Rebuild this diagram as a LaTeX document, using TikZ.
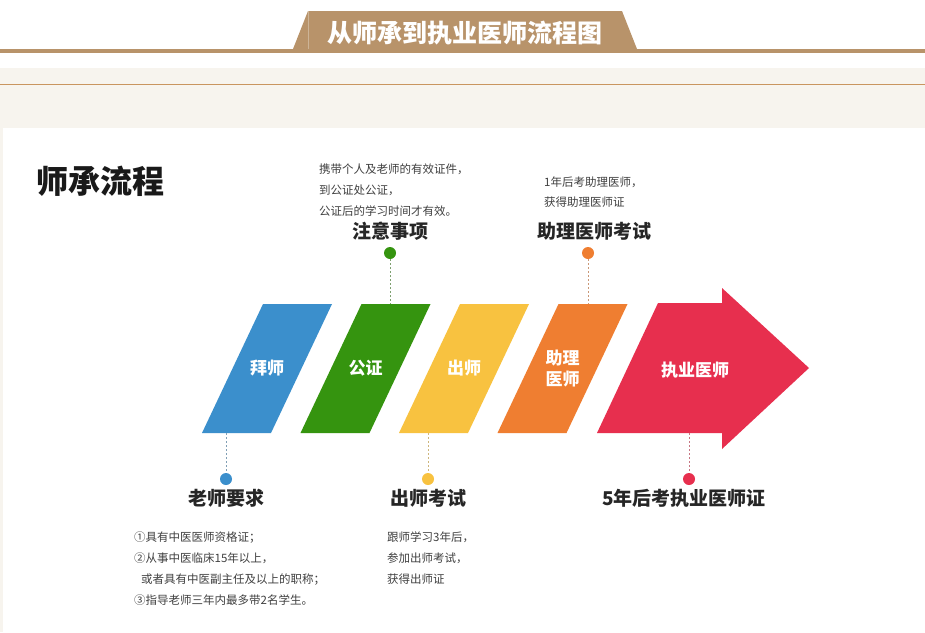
\documentclass[tikz,border=0pt]{standalone}
\usepackage{fontspec}
\setmainfont{Noto Sans CJK SC}
\usetikzlibrary{positioning}
\definecolor{tabbrown}{HTML}{B8936A}
\definecolor{cream}{HTML}{F7F4EE}
\definecolor{rulebrown}{HTML}{C9955F}
\definecolor{cblue}{HTML}{3B8FCC}
\definecolor{cgreen}{HTML}{35940F}
\definecolor{cyellow}{HTML}{F8C240}
\definecolor{corange}{HTML}{EF7E31}
\definecolor{cred}{HTML}{E72F4E}

\begin{document}
\begin{tikzpicture}[x=1pt, y=-1pt, every node/.style={inner sep=0pt}] % 1pt = 1px of the reference
                \useasboundingbox (0,0) rectangle (925,632);
                \tikzset{
                  stepname/.style={text=white, font=\bfseries\fontsize{17}{21}\selectfont, align=center},
                  head/.style={text=black!85, font=\bfseries\fontsize{19}{22}\selectfont},
                  note/.style={text=black!75, font=\fontsize{11.5}{21}\selectfont, align=left, anchor=north west},
                  dot/.style={circle, minimum size=12pt},
                  guide/.style={dash pattern=on 2pt off 2pt, line width=0.7pt}
                }
                \pgfmathsetmacro{\topy}{304}
                \pgfmathsetmacro{\boty}{433}
                \pgfmathsetmacro{\pitch}{98.5}

                % Title tab and rules
                \fill[tabbrown] (0,49) rectangle (925,53);
                \fill[tabbrown] (293,49) -- (308,11) -- (622,11) -- (637,49) -- cycle;
                \draw[tabbrown!70!white, line width=0.6pt] (308,11) -- (308,49);
                \node[text=white, font=\bfseries\fontsize{25}{28}\selectfont] (title) at (465,33) {从师承到执业医师流程图};

                % Cream band and white panel
                \fill[cream] (0,68) rectangle (925,632);
                \draw[rulebrown, line width=1pt] (0,84.5) -- (925,84.5);
                \fill[white] (3,128) rectangle (925,632);

                \node[anchor=west, text=black!90, font=\bfseries\fontsize{32}{35}\selectfont] (flowtitle) at (36,181) {师承流程};

                % Slanted steps
                \foreach \i/\col/\nm/\txt in {0/cblue/bai/{拜师}, 1/cgreen/gong/{公证}, 2/cyellow/chu/{出师}, 3/corange/zhu/{助理\\医师}} {
                \pgfmathsetmacro{\xl}{263+\pitch*\i}
                \fill[\col] (\xl,\topy) -- ++(69,0) -- ++(-61,\boty-\topy) -- ++(-69,0) -- cycle;
                \node[stepname] (\nm) at (\xl+4,368.5) {\txt};
                }

                % Final arrow
                \fill[cred] (658,303) -- (722,303) -- (722,288) -- (809,368) -- (722,449) -- (722,\boty) -- (597,\boty) -- cycle;
                \node[stepname] (zhiye) at (695,370) {执业医师};

                % Top call-outs
                \coordinate (tgong) at (390,\topy);
                \coordinate (tzhu) at (588,\topy);
                \node[dot, fill=cgreen] (dgong) at (390,253) {};
                \node[dot, fill=corange] (dzhu) at (588,253) {};
                \draw[guide, cgreen!45!gray!80] (dgong) -- (tgong);
                \draw[guide, corange!55!gray!80] (dzhu) -- (tzhu);
                \node[head] (hgong) at (390,231) {注意事项};
                \node[head] (hzhu) at (594,231) {助理医师考试};
                \node[note] (ngong) at (319,163.5) {携带个人及老师的有效证件，\\到公证处公证，\\公证后的学习时间才有效。};
                \node[note, font=\fontsize{11.5}{20}\selectfont] (nzhu) at (544,176.5) {1年后考助理医师，\\获得助理医师证};

                % Bottom call-outs
                \coordinate (bbai) at (226,\boty);
                \coordinate (bchu) at (428,\boty);
                \coordinate (bzhiye) at (689,\boty);
                \node[dot, fill=cblue] (dbai) at (226,479) {};
                \node[dot, fill=cyellow] (dchu) at (428,479) {};
                \node[dot, fill=cred] (dzhiye) at (689,479) {};
                \draw[guide, cblue!45!gray!80] (bbai) -- (dbai);
                \draw[guide, cyellow!55!gray!80] (bchu) -- (dchu);
                \draw[guide, cred!55!gray!80] (bzhiye) -- (dzhiye);
                \node[head] (hbai) at (226,498) {老师要求};
                \node[head] (hchu) at (428,498) {出师考试};
                \node[head] (hzhiye) at (684,498) {5年后考执业医师证};
                \node[note] (nbai) at (134,531.5) {①具有中医医师资格证；\\②从事中医临床15年以上，\\\hspace*{7pt}或者具有中医副主任及以上的职称；\\③指导老师三年内最多带2名学生。};
                \node[note] (nchu) at (387,531.5) {跟师学习3年后，\\参加出师考试，\\获得出师证};

            \end{tikzpicture}
\end{document}
